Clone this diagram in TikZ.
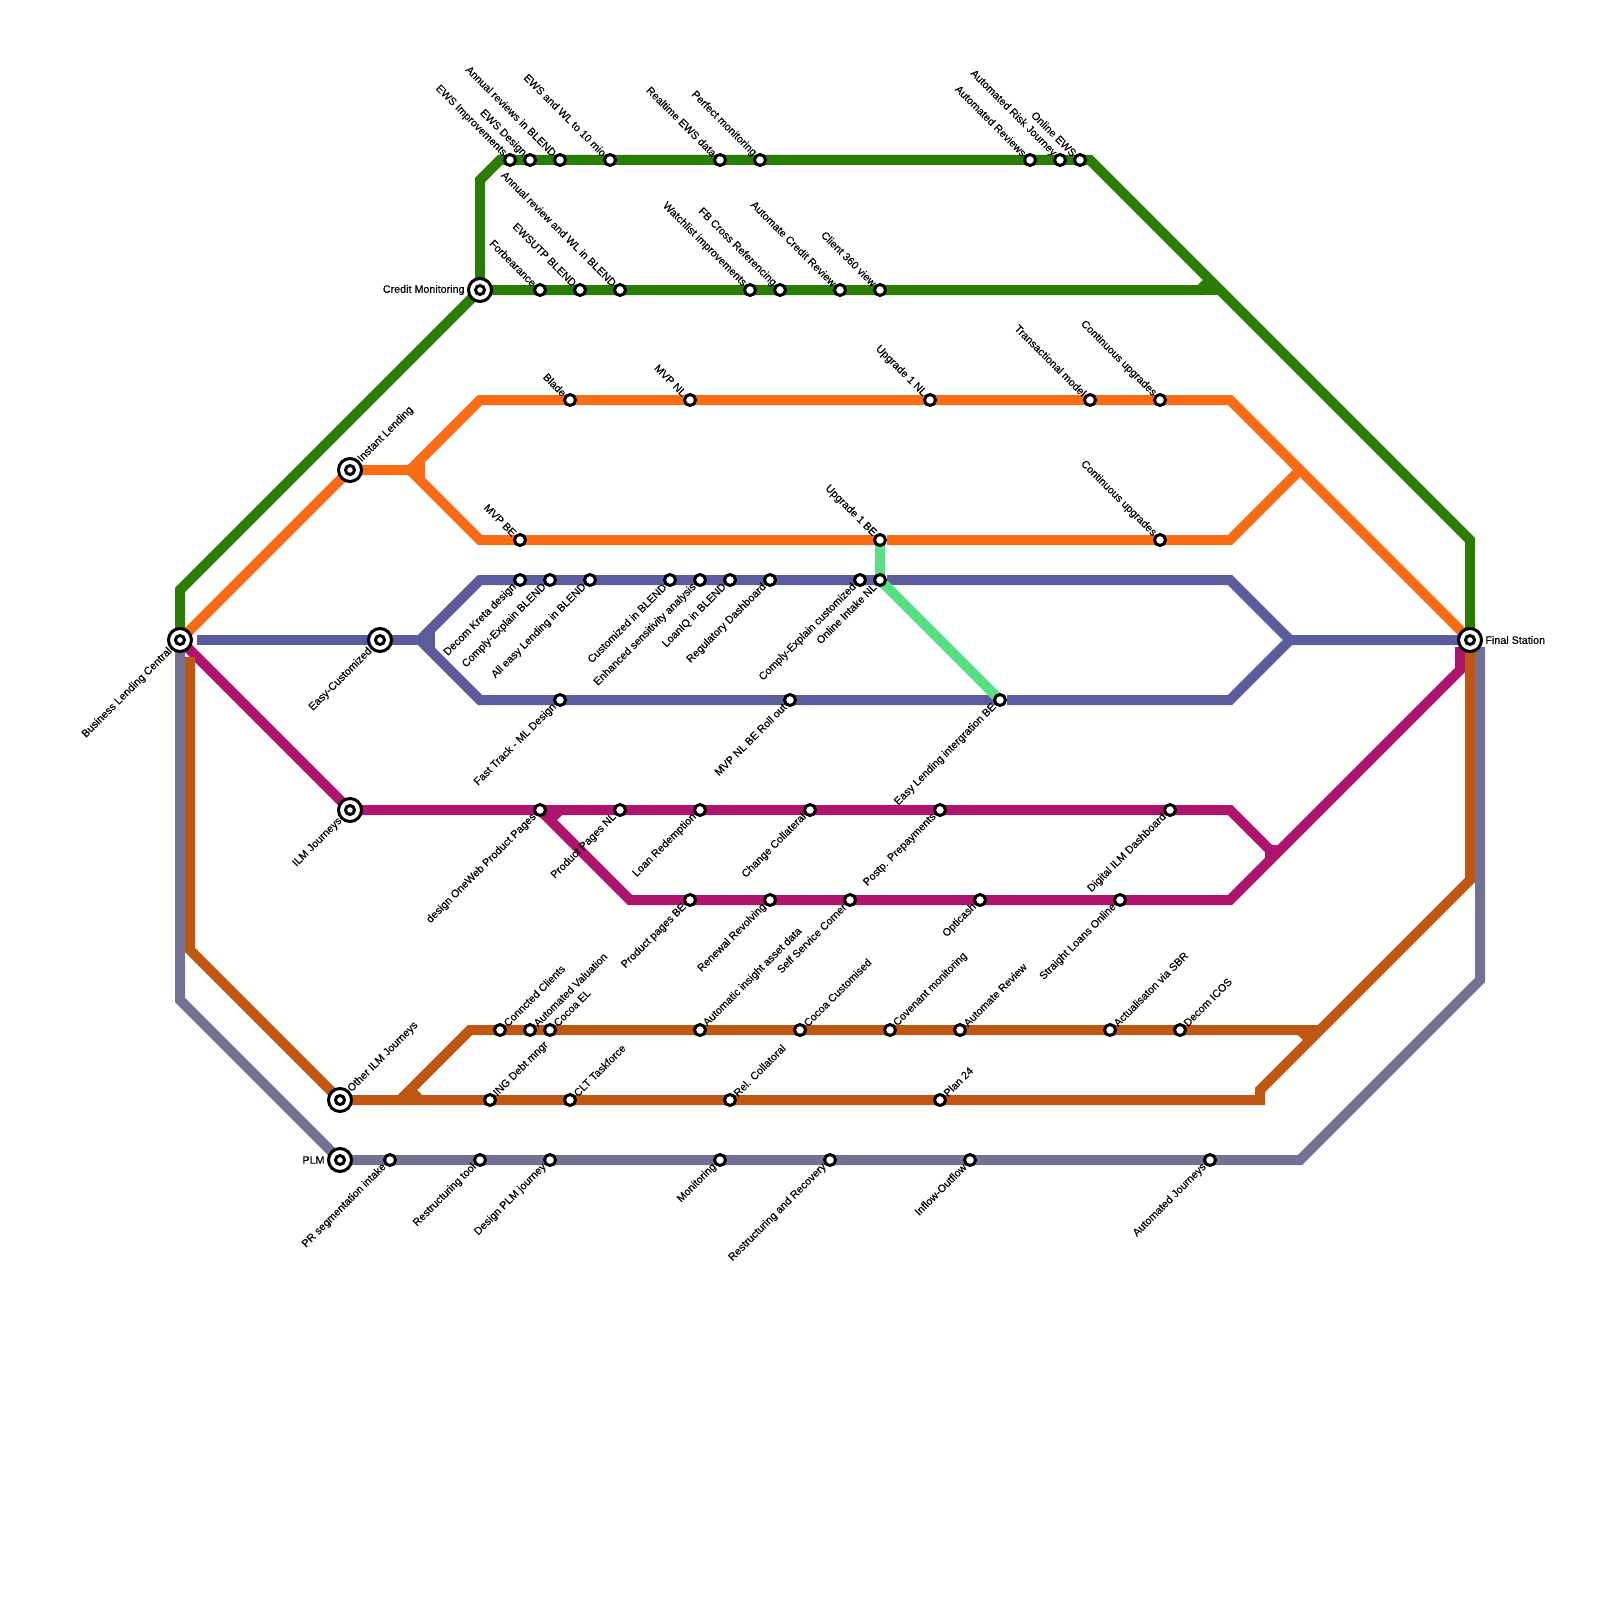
\documentclass[tikz,border=0pt]{standalone}
\usepackage{fontspec}
\setmainfont{Liberation Sans}[RawFeature={embolden=0.3}]
\usepackage{tikz}
\usetikzlibrary{backgrounds}
\definecolor{lgreen}{HTML}{2A7D02}
\definecolor{lorange}{HTML}{F96C14}
\definecolor{lblue}{HTML}{5C5C9C}
\definecolor{lpurple}{HTML}{AE146E}
\definecolor{lbrown}{HTML}{BF5713}
\definecolor{lgrey}{HTML}{727292}
\definecolor{lmint}{HTML}{5ADF82}
\tikzset{
  track/.style={draw=#1,line width=1mm},
  stn/.style={circle,draw=black,fill=white,line width=.3mm,minimum size=1.1mm,inner sep=0pt},
  hub/.style={circle,draw=black,fill=white,line width=.3mm,minimum size=2.3mm,inner sep=0pt,
    path picture={\draw[line width=.3mm] (path picture bounding box.center) circle (.45mm);}},
  lul/.style={rotate=-45,anchor=east,inner sep=0pt},
  ldl/.style={rotate=45,anchor=east,inner sep=0pt},
  lur/.style={rotate=45,anchor=west,inner sep=0pt},
}

\begin{document}
\begin{tikzpicture}[x=1mm,y=-1mm,every node/.style={font=\fontsize{3.05}{3.5}\selectfont}]
 \useasboundingbox (0,0) rectangle (160,160);
 % hubs
 \node[hub] (blc) at (18,64){};
 \node[ldl] (tblc) at (blc.south west){Business Lending Central};
 \node[hub] (crm) at (48,29){};
 \node[anchor=east,inner sep=.5pt] (tcrm) at (crm.west){Credit Monitoring};
 \node[hub] (ils) at (35,47){};
 \node[lur] (tils) at (ils.north east){Instant Lending};
 \node[hub] (esy) at (38,64){};
 \node[ldl] (tesy) at (esy.south west){Easy-Customized};
 \node[hub] (ilm) at (35,81){};
 \node[ldl] (tilm) at (ilm.south west){ILM Journeys};
 \node[hub] (oil) at (34,110){};
 \node[lur] (toil) at (oil.north east){Other ILM Journeys};
 \node[hub] (plm) at (34,116){};
 \node[anchor=east,inner sep=.5pt] (tplm) at (plm.west){PLM};
 \node[hub] (fin) at (147,64){};
 \node[anchor=west,inner sep=.5pt] (tfin) at (fin.east){Final Station};
 % green, upper row
 \node[stn] (ga1) at (51,16){};
 \node[lul] (tga1) at (ga1.north west){EWS Improvements};
 \node[stn] (ga2) at (53,16){};
 \node[lul] (tga2) at (ga2.north west){EWS Design};
 \node[stn] (ga3) at (56,16){};
 \node[lul] (tga3) at (ga3.north west){Annual reviews in BLEND};
 \node[stn] (ga4) at (61,16){};
 \node[lul] (tga4) at (ga4.north west){EWS and WL to 10 mio};
 \node[stn] (ga5) at (72,16){};
 \node[lul] (tga5) at (ga5.north west){Realtime EWS data};
 \node[stn] (ga6) at (76,16){};
 \node[lul] (tga6) at (ga6.north west){Perfect monitoring};
 \node[stn] (ga7) at (103,16){};
 \node[lul] (tga7) at (ga7.north west){Automated Reviews};
 \node[stn] (ga8) at (106,16){};
 \node[lul] (tga8) at (ga8.north west){Automated Risk Journey};
 \node[stn] (ga9) at (108,16){};
 \node[lul] (tga9) at (ga9.north west){Online EWS};
 % green, lower row
 \node[stn] (gb1) at (54,29){};
 \node[lul] (tgb1) at (gb1.north west){Forbearance};
 \node[stn] (gb2) at (58,29){};
 \node[lul] (tgb2) at (gb2.north west){EWSUTP BLEND};
 \node[stn] (gb3) at (62,29){};
 \node[lul] (tgb3) at (gb3.north west){Annual review and WL in BLEND};
 \node[stn] (gb4) at (75,29){};
 \node[lul] (tgb4) at (gb4.north west){Watchlist improvements};
 \node[stn] (gb5) at (78,29){};
 \node[lul] (tgb5) at (gb5.north west){FB Cross Referencing};
 \node[stn] (gb6) at (84,29){};
 \node[lul] (tgb6) at (gb6.north west){Automate Credit Review};
 \node[stn] (gb7) at (88,29){};
 \node[lul] (tgb7) at (gb7.north west){Client 360 view};
 % orange
 \node[stn] (oa1) at (57,40){};
 \node[lul] (toa1) at (oa1.north west){Blade};
 \node[stn] (oa2) at (69,40){};
 \node[lul] (toa2) at (oa2.north west){MVP NL};
 \node[stn] (oa3) at (93,40){};
 \node[lul] (toa3) at (oa3.north west){Upgrade 1 NL};
 \node[stn] (oa4) at (109,40){};
 \node[lul] (toa4) at (oa4.north west){Transactional model};
 \node[stn] (oa5) at (116,40){};
 \node[lul] (toa5) at (oa5.north west){Continuous upgrades};
 \node[stn] (ob1) at (52,54){};
 \node[lul] (tob1) at (ob1.north west){MVP BE};
 \node[stn] (ob2) at (88,54){};
 \node[lul] (tob2) at (ob2.north west){Upgrade 1 BE};
 \node[stn] (ob3) at (116,54){};
 \node[lul] (tob3) at (ob3.north west){Continuous upgrades};
 % blue
 \node[stn] (ba1) at (52,58){};
 \node[ldl] (tba1) at (ba1.south west){Decom Kreta design};
 \node[stn] (ba2) at (55,58){};
 \node[ldl] (tba2) at (ba2.south west){Comply-Explain BLEND};
 \node[stn] (ba3) at (59,58){};
 \node[ldl] (tba3) at (ba3.south west){All easy Lending in BLEND};
 \node[stn] (ba4) at (67,58){};
 \node[ldl] (tba4) at (ba4.south west){Customized in BLEND};
 \node[stn] (ba5) at (70,58){};
 \node[ldl] (tba5) at (ba5.south west){Enhanced sensitivity analysis};
 \node[stn] (ba6) at (73,58){};
 \node[ldl] (tba6) at (ba6.south west){LoanIQ in BLEND};
 \node[stn] (ba7) at (77,58){};
 \node[ldl] (tba7) at (ba7.south west){Regulatory Dashboard};
 \node[stn] (ba8) at (86,58){};
 \node[ldl] (tba8) at (ba8.south west){Comply-Explain customized};
 \node[stn] (ba9) at (88,58){};
 \node[ldl] (tba9) at (ba9.south west){Online Intake NL};
 \node[stn] (bb1) at (56,70){};
 \node[ldl] (tbb1) at (bb1.south west){Fast Track - ML Design};
 \node[stn] (bb2) at (79,70){};
 \node[ldl] (tbb2) at (bb2.south west){MVP NL BE Roll out};
 \node[stn] (bb3) at (100,70){};
 \node[ldl] (tbb3) at (bb3.south west){Easy Lending intergration BE};
 % purple
 \node[stn] (pa1) at (54,81){};
 \node[ldl] (tpa1) at (pa1.south west){design OneWeb Product Pages};
 \node[stn] (pa2) at (62,81){};
 \node[ldl] (tpa2) at (pa2.south west){Product Pages NL};
 \node[stn] (pa3) at (70,81){};
 \node[ldl] (tpa3) at (pa3.south west){Loan Redemption};
 \node[stn] (pa4) at (81,81){};
 \node[ldl] (tpa4) at (pa4.south west){Change Collateral};
 \node[stn] (pa5) at (94,81){};
 \node[ldl] (tpa5) at (pa5.south west){Postp. Prepayments};
 \node[stn] (pa6) at (117,81){};
 \node[ldl] (tpa6) at (pa6.south west){Digital ILM Dashboard};
 \node[stn] (pb1) at (69,90){};
 \node[ldl] (tpb1) at (pb1.south west){Product pages BE};
 \node[stn] (pb2) at (77,90){};
 \node[ldl] (tpb2) at (pb2.south west){Renewal Revolving};
 \node[stn] (pb3) at (85,90){};
 \node[ldl] (tpb3) at (pb3.south west){Self Service Corner};
 \node[stn] (pb4) at (98,90){};
 \node[ldl] (tpb4) at (pb4.south west){Opticash};
 \node[stn] (pb5) at (112,90){};
 \node[ldl] (tpb5) at (pb5.south west){Straight Loans Online};
 % brown
 \node[stn] (ra1) at (50,103){};
 \node[lur] (tra1) at (ra1.north east){Conncted Clients};
 \node[stn] (ra2) at (53,103){};
 \node[lur] (tra2) at (ra2.north east){Automated Valuation};
 \node[stn] (ra3) at (55,103){};
 \node[lur] (tra3) at (ra3.north east){Cocoa EL};
 \node[stn] (ra4) at (70,103){};
 \node[lur] (tra4) at (ra4.north east){Automatic insight asset data};
 \node[stn] (ra5) at (80,103){};
 \node[lur] (tra5) at (ra5.north east){Cocoa Customised};
 \node[stn] (ra6) at (89,103){};
 \node[lur] (tra6) at (ra6.north east){Covenant monitoring};
 \node[stn] (ra7) at (96,103){};
 \node[lur] (tra7) at (ra7.north east){Automate Review};
 \node[stn] (ra8) at (111,103){};
 \node[lur] (tra8) at (ra8.north east){Actualisaton via SBR};
 \node[stn] (ra9) at (118,103){};
 \node[lur] (tra9) at (ra9.north east){Decom ICOS};
 \node[stn] (rb1) at (49,110){};
 \node[lur] (trb1) at (rb1.north east){ING Debt mngr};
 \node[stn] (rb2) at (57,110){};
 \node[lur] (trb2) at (rb2.north east){CLT Taskforce};
 \node[stn] (rb3) at (73,110){};
 \node[lur] (trb3) at (rb3.north east){Rel. Collatoral};
 \node[stn] (rb4) at (94,110){};
 \node[lur] (trb4) at (rb4.north east){Plan 24};
 % grey
 \node[stn] (ya1) at (39,116){};
 \node[ldl] (tya1) at (ya1.south west){PR segmentation intake};
 \node[stn] (ya2) at (48,116){};
 \node[ldl] (tya2) at (ya2.south west){Restructuring tool};
 \node[stn] (ya3) at (55,116){};
 \node[ldl] (tya3) at (ya3.south west){Design PLM journey};
 \node[stn] (ya4) at (72,116){};
 \node[ldl] (tya4) at (ya4.south west){Monitoring};
 \node[stn] (ya5) at (83,116){};
 \node[ldl] (tya5) at (ya5.south west){Restructuring and Recovery};
 \node[stn] (ya6) at (97,116){};
 \node[ldl] (tya6) at (ya6.south west){Inflow-Outflow};
 \node[stn] (ya7) at (121,116){};
 \node[ldl] (tya7) at (ya7.south west){Automated Journeys};
 % free ends of the lines
 \coordinate (gj) at (120,29);
 \coordinate (oj) at (42,47);
 \coordinate (bs) at (19.7,64);
 \coordinate (bj) at (43,64);
 \coordinate (bo) at (88.7,58);
 \coordinate (bp) at (100.7,70);
 \coordinate (oo) at (88.7,54);
 \coordinate (pj) at (127,85);
 \coordinate (ps) at (56,81);
 \coordinate (rs) at (19,65.7);
 \coordinate (rj) at (130,103);
 \begin{scope}[on background layer]
  \draw[track=lgreen] (blc.center) -- (18,59) -- (crm.center) -- (48,18) -- (50,16) -- (109,16) -- (147,54) -- (fin.center);
  \draw[track=lgreen] (crm.center) -- (gj) -- (121,28);
  \draw[track=lgreen] (gj) -- (122,29);
  \draw[track=lorange] (blc.center) -- (ils.center) -- (oj);
  \draw[track=lorange] (ob2.center) -- (48,54) -- (41,47) -- (48,40) -- (123,40) -- (fin.center);
  \draw[track=lorange] (42,46) -- (42,48);
  \draw[track=lorange] (oo) -- (123,54) -- (130,47);
  \draw[track=lblue] (bs) -- (bj);
  \draw[track=lblue] (ba9.center) -- (48,58) -- (42,64) -- (48,70) -- (bb3.center);
  \draw[track=lblue] (43,63) -- (43,65);
  \draw[track=lblue] (bo) -- (123,58) -- (129,64) -- (fin.center);
  \draw[track=lblue] (bp) -- (123,70) -- (129,64);
  \draw[track=lpurple] (blc.center) -- (ilm.center) -- (123,81) -- (pj) -- (127,86);
  \draw[track=lpurple] (pj) -- (128,85);
  \draw[track=lpurple] (pa1.center) -- (63,90) -- (123,90) -- (146,67) -- (146,64.7);
  \draw[track=lpurple] (ps) -- (55,82);
  \draw[track=lgrey] (blc.center) -- (18,100) -- (plm.center) -- (130,116) -- (148,98) -- (148,64.7);
  \draw[track=lbrown] (rs) -- (19,95) -- (oil.center) -- (126,110) -- (126,109) -- (147,88) -- (fin.center);
  \draw[track=lbrown] (40,110) -- (47,103) -- (rj) -- (132,103);
  \draw[track=lbrown] (41,109) -- (42,110);
  \draw[track=lbrown] (rj) -- (131,104);
  \draw[track=lmint] (ob2.center) -- (ba9.center) -- (bb3.center);
 \end{scope}
\end{tikzpicture}
\end{document}
